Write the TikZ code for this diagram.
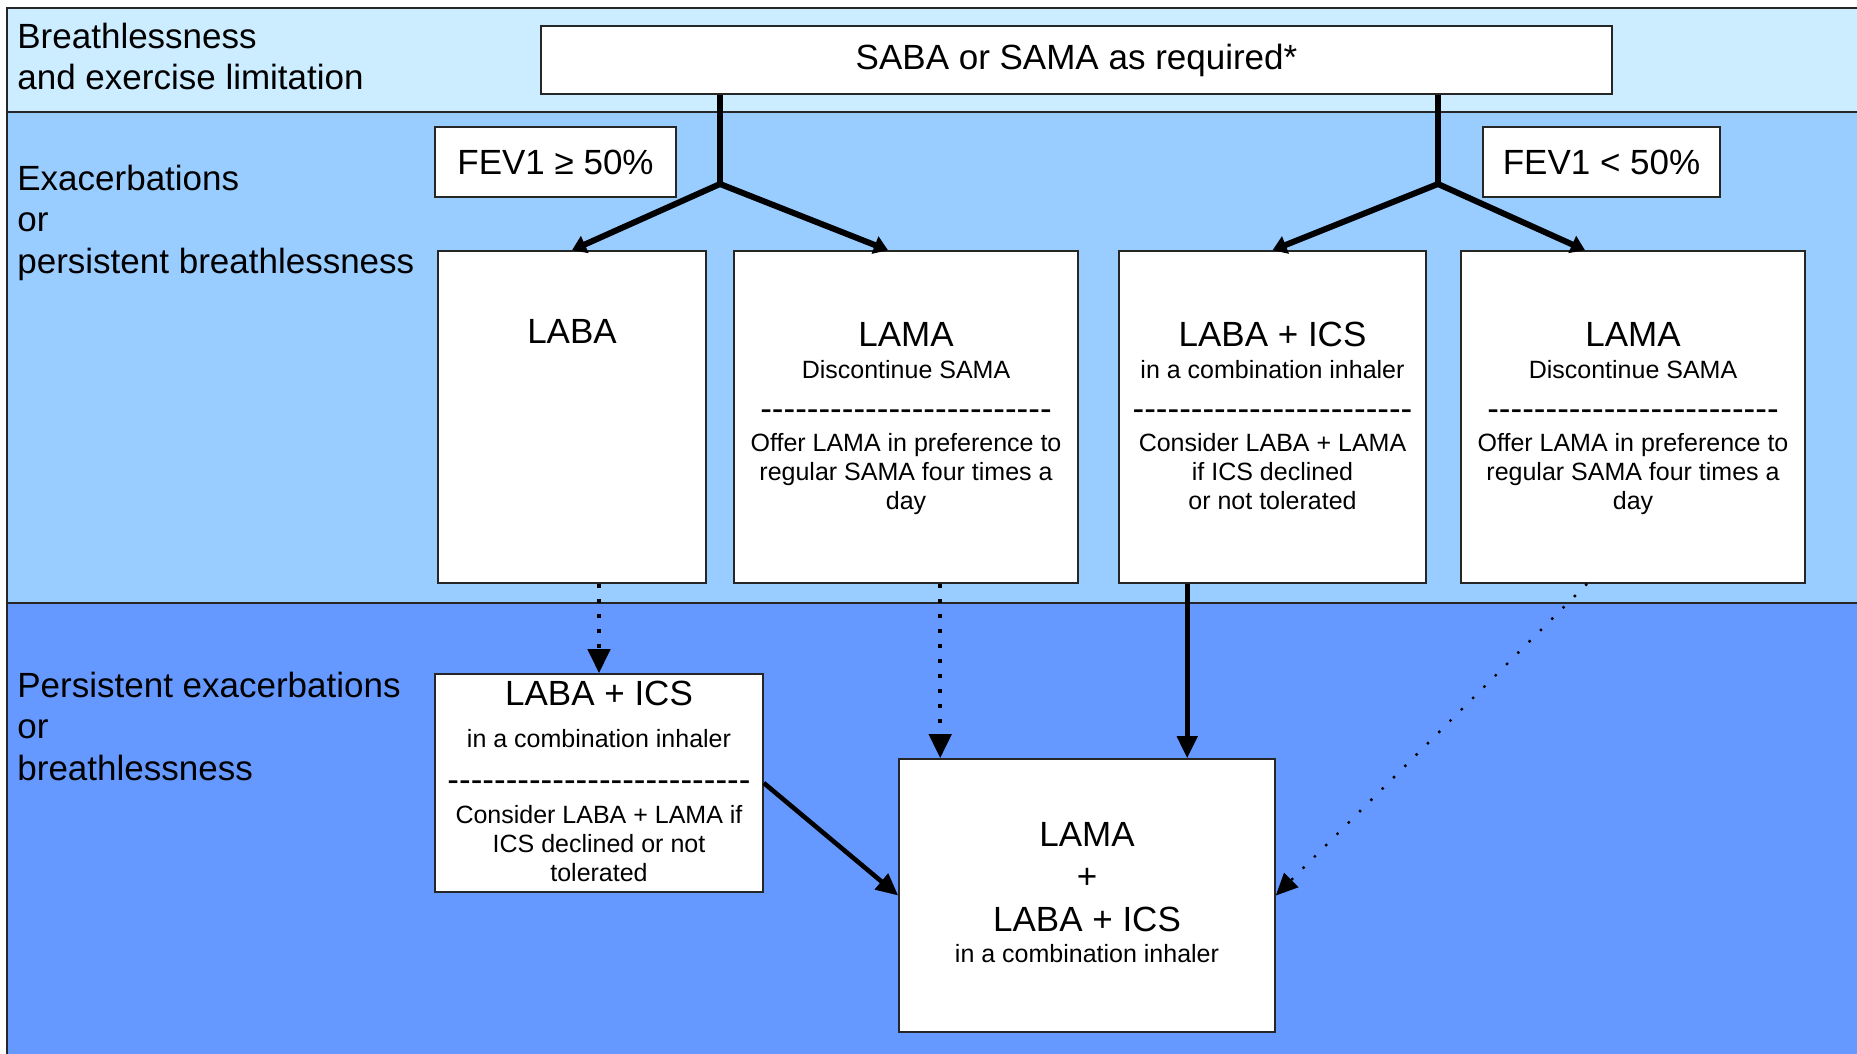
\documentclass[tikz,border=0pt]{standalone}
\usepackage{fontspec}
\setmainfont{Liberation Sans}
\usetikzlibrary{arrows.meta}
\definecolor{bandone}{RGB}{204,236,255}
\definecolor{bandtwo}{RGB}{153,204,255}
\definecolor{bandthree}{RGB}{102,153,255}
\tikzset{
  bandline/.style={draw=black!85, line width=0.8pt},
  panel/.style={draw=black!85, fill=white, line width=0.8pt, inner sep=0pt},
  headtext/.style={font=\fontsize{17.5}{20.75}\selectfont, inner sep=0pt, align=center},
  notetext/.style={font=\fontsize{12.5}{14.5}\selectfont, inner sep=0pt, align=center},
  rowlabel/.style={headtext, align=left, anchor=base west},
  stem/.style={line width=3pt},
  splitarrow/.style={line width=3pt, -{Triangle[length=7pt,width=9pt]}},
  solidarrow/.style={line width=2.3pt, -{Triangle[length=11pt,width=10pt]}},
  dotarrow/.style={line width=2.2pt, dash pattern=on 2.2pt off 5.3pt,
    -{Triangle[length=12pt,width=11pt]}},
  faintarrow/.style={line width=1.2pt, dash pattern=on 1.2pt off 6.8pt,
    -{Triangle[length=11pt,width=10pt]}}
}
\newcommand{\dashrow}[1]{\foreach \k in {1,...,#1}{-\kern0pt}}

\begin{document}
\begin{tikzpicture}[x=0.5pt,y=-0.5pt]
  \useasboundingbox (0,0) rectangle (1857,1054);

  % background bands
  \fill[bandone] (7,8) rectangle (1870,112);
  \fill[bandtwo] (7,112) rectangle (1870,603);
  \fill[bandthree] (7,603) rectangle (1870,1070);
  \draw[bandline] (1870,8) -- (7,8) -- (7,1070);
  \draw[bandline] (7,112) -- (1870,112);
  \draw[bandline] (7,603) -- (1870,603);

  % row labels (anchored on their last line)
  \node[rowlabel] (row1) at (17,90) {Breathlessness\\and exercise limitation};
  \node[rowlabel] (row2) at (17,273) {Exacerbations\\or\\persistent breathlessness};
  \node[rowlabel] (row3) at (17,780) {Persistent exacerbations\\or\\breathlessness};

  % boxes
  \node[panel, headtext, minimum width=535.5pt, minimum height=34pt] (saba)
    at (1076.5,60) {SABA or SAMA as required*};
  \node[panel, headtext, minimum width=120.5pt, minimum height=35pt] (fevhi)
    at (555.5,162) {FEV1 ≥ 50\%};
  \node[panel, headtext, minimum width=118.5pt, minimum height=35pt] (fevlo)
    at (1601.5,162) {FEV1 < 50\%};
  \node[panel, minimum width=134pt, minimum height=166pt] (laba) at (572,417) {};
  \node[panel, minimum width=172pt, minimum height=166pt] (lama1) at (906,417) {};
  \node[panel, minimum width=153.5pt, minimum height=166pt] (labaics) at (1272.5,417) {};
  \node[panel, minimum width=172pt, minimum height=166pt] (lama2) at (1633,417) {};
  \node[panel, minimum width=164pt, minimum height=109pt] (combo) at (599,783) {};
  \node[panel, minimum width=188pt, minimum height=136.5pt] (triple) at (1087,895.5) {};

  % box texts
  \node[headtext, anchor=base] (laba-t) at ([yshift=-46.5pt]laba.north) {LABA};
  \foreach \nm/\ttl/\sb/\cnt/\txt in {
      lama1/LAMA/Discontinue SAMA/25/{Offer LAMA in preference to\\regular SAMA four times a\\day},
      labaics/LABA + ICS/in a combination inhaler/24/{Consider LABA + LAMA\\if ICS declined\\or not tolerated},
      lama2/LAMA/Discontinue SAMA/25/{Offer LAMA in preference to\\regular SAMA four times a\\day}}
  {
    \node[headtext, anchor=base] (\nm-t) at ([yshift=-48pt]\nm.north) {\ttl};
    \node[notetext, anchor=base] (\nm-s) at ([yshift=-64pt]\nm.north) {\sb};
    \node[headtext, anchor=base] (\nm-d) at ([yshift=-85pt]\nm.north) {\dashrow{\cnt}};
    \node[notetext, anchor=base] (\nm-n) at ([yshift=-129.5pt]\nm.north) {\txt};
  }
  \node[headtext, anchor=base] (combo-t) at ([yshift=-16pt]combo.north) {LABA + ICS};
  \node[notetext, anchor=base] (combo-s) at ([yshift=-37pt]combo.north)
    {in a combination inhaler};
  \node[headtext, anchor=base] (combo-d) at ([yshift=-59.3pt]combo.north) {\dashrow{26}};
  \node[notetext, anchor=base] (combo-n) at ([yshift=-104pt]combo.north)
    {Consider LABA + LAMA if\\ICS declined or not\\tolerated};
  \node[headtext, anchor=base, font=\fontsize{17.5}{21.25}\selectfont] (triple-t)
    at ([yshift=-86.5pt]triple.north) {LAMA\\+\\LABA + ICS};
  \node[notetext, anchor=base] (triple-s) at ([yshift=-102pt]triple.north)
    {in a combination inhaler};

  % connectors
  \coordinate (splitL) at (720,184);
  \coordinate (splitR) at (1438,184);
  \coordinate (tripleA) at ([xshift=21pt]triple.north west);
  \coordinate (tripleB) at ([xshift=144.5pt]triple.north west);
  \draw[stem] (saba.south -| splitL) -- (splitL);
  \draw[splitarrow] (splitL) -- (laba.north);
  \draw[splitarrow] (splitL) -- ([xshift=-9pt]lama1.north);
  \draw[stem] (saba.south -| splitR) -- (splitR);
  \draw[splitarrow] (splitR) -- (labaics.north);
  \draw[splitarrow] (splitR) -- ([xshift=-24pt]lama2.north);
  \draw[dotarrow] (combo.north |- laba.south) -- (combo.north);
  \draw[dotarrow] (lama1.south -| tripleA) -- (tripleA);
  \draw[solidarrow] (labaics.south -| tripleB) -- (tripleB);
  \draw[solidarrow] (combo.east) -- (triple.west);
  \draw[faintarrow] ([xshift=-23pt]lama2.south) -- (triple.east);
\end{tikzpicture}
\end{document}
